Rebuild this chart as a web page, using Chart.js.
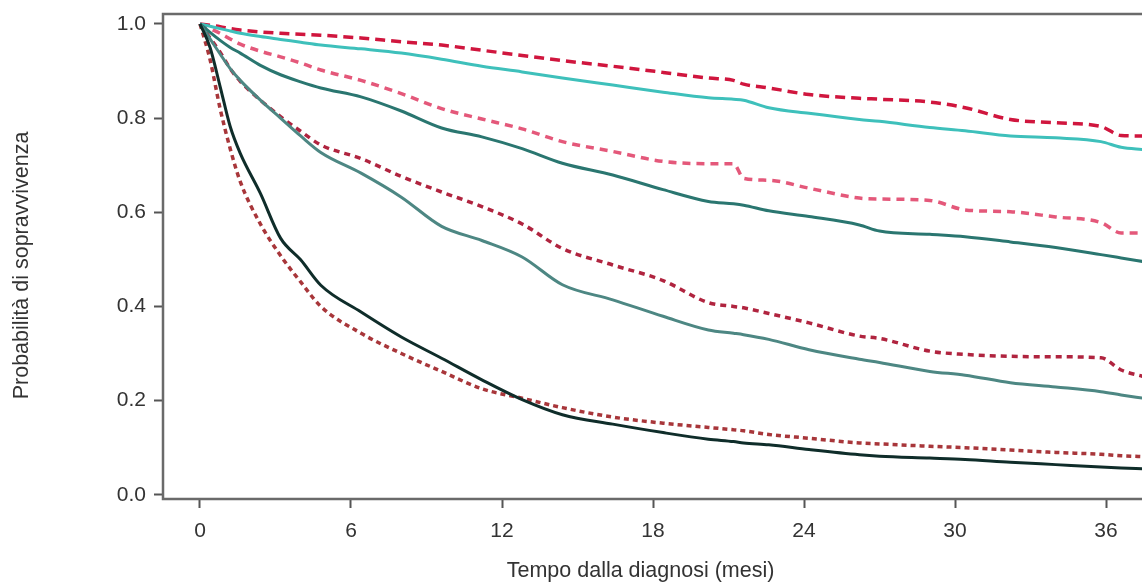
<!DOCTYPE html>
<html>
<head>
<meta charset="utf-8">
<script src="https://cdn.jsdelivr.net/npm/chart.js@4.4.0/dist/chart.umd.min.js"></script>
<style>
  html, body { margin: 0; padding: 0; background: #fff; }
  #wrap { width: 1142px; height: 584px; }
</style>
</head>
<body>
<div id="wrap"><canvas id="survival-chart" width="1142" height="584"></canvas></div>
<script>
// tempo in mesi (asse x)
var months = [0, 0.4, 0.8, 1.2, 1.6, 2.4, 3.2, 4, 4.8, 6.4, 8, 9.6, 11.2, 12.8, 14.4, 16.4, 18.4, 20.2, 21.2, 21.6, 22.6, 24.2, 26.2, 27, 29, 30.4, 32.2, 34, 35.8, 36.6, 37.5];

// curve osservate (linee continue)
var obsTop = [1.0, 0.995, 0.99, 0.985, 0.98, 0.973, 0.967, 0.961, 0.955, 0.947, 0.938, 0.925, 0.91, 0.898, 0.885, 0.87, 0.855, 0.843, 0.84, 0.838, 0.822, 0.81, 0.797, 0.793, 0.78, 0.773, 0.762, 0.758, 0.75, 0.738, 0.733];
var obsMid = [1.0, 0.982, 0.965, 0.95, 0.938, 0.912, 0.892, 0.877, 0.864, 0.845, 0.815, 0.779, 0.76, 0.735, 0.704, 0.679, 0.648, 0.623, 0.618, 0.615, 0.603, 0.591, 0.573, 0.56, 0.553, 0.548, 0.537, 0.525, 0.51, 0.503, 0.495];
var obsLow = [1.0, 0.968, 0.936, 0.905, 0.88, 0.838, 0.8, 0.762, 0.727, 0.683, 0.632, 0.57, 0.54, 0.505, 0.446, 0.414, 0.379, 0.35, 0.343, 0.34, 0.33, 0.308, 0.288, 0.281, 0.262, 0.254, 0.238, 0.229, 0.219, 0.212, 0.205];
var obsBottom = [1.0, 0.95, 0.867, 0.782, 0.725, 0.64, 0.545, 0.499, 0.445, 0.388, 0.335, 0.29, 0.244, 0.202, 0.17, 0.15, 0.132, 0.118, 0.113, 0.11, 0.106, 0.096, 0.085, 0.082, 0.078, 0.075, 0.069, 0.064, 0.059, 0.057, 0.055];

// curve attese (linee tratteggiate)
var expTop = [1.0, 0.997, 0.994, 0.99, 0.987, 0.983, 0.98, 0.978, 0.976, 0.97, 0.962, 0.955, 0.944, 0.933, 0.922, 0.91, 0.897, 0.885, 0.88, 0.872, 0.864, 0.85, 0.842, 0.84, 0.834, 0.822, 0.797, 0.79, 0.782, 0.763, 0.762];
var expMid = [1.0, 0.99, 0.98, 0.968, 0.957, 0.942, 0.93, 0.917, 0.902, 0.88, 0.852, 0.82, 0.798, 0.777, 0.75, 0.729, 0.708, 0.703, 0.703, 0.672, 0.668, 0.651, 0.63, 0.628, 0.625, 0.605, 0.601, 0.59, 0.578, 0.556, 0.556];
var expLow = [1.0, 0.97, 0.94, 0.905, 0.878, 0.838, 0.803, 0.772, 0.743, 0.714, 0.676, 0.643, 0.612, 0.575, 0.523, 0.488, 0.455, 0.408, 0.4, 0.397, 0.385, 0.365, 0.337, 0.332, 0.305, 0.298, 0.294, 0.293, 0.291, 0.265, 0.251];
var expBottom = [1.0, 0.924, 0.82, 0.735, 0.665, 0.575, 0.508, 0.452, 0.4, 0.343, 0.3, 0.262, 0.225, 0.205, 0.185, 0.165, 0.152, 0.143, 0.138, 0.136, 0.128, 0.12, 0.11, 0.108, 0.103, 0.1, 0.095, 0.09, 0.086, 0.083, 0.081];

var xTicks = [0, 6, 12, 18, 24, 30, 36];
var yTicks = [0, 0.2, 0.4, 0.6, 0.8, 1.0];

function toPoints(values) {
    return values.map(function (v, i) { return { x: months[i], y: v }; });
}

function solid(values, color) {
    return { data: toPoints(values), borderColor: color, borderWidth: 3, pointRadius: 0, cubicInterpolationMode: 'monotone', fill: false };
}

function dashed(values, color, dash) {
    return { data: toPoints(values), borderColor: color, borderWidth: 3.5, borderDash: dash, pointRadius: 0, cubicInterpolationMode: 'monotone', fill: false };
}

// cornice in stile R (sinistra, alto, basso)
var framePlugin = {
    id: 'frame',
    afterDraw: function (chart) {
        var a = chart.chartArea;
        var ctx = chart.ctx;
        ctx.save();
        ctx.strokeStyle = '#6a6a6a';
        ctx.lineWidth = 2.5;
        ctx.beginPath();
        ctx.moveTo(chart.width + 5, a.top);
        ctx.lineTo(a.left, a.top);
        ctx.lineTo(a.left, a.bottom);
        ctx.lineTo(chart.width + 5, a.bottom);
        ctx.stroke();
        ctx.restore();
    }
};

var tickFont = { family: 'Liberation Sans, Arial, sans-serif', size: 21, lineHeight: 1 };
var titleFont = { family: 'Liberation Sans, Arial, sans-serif', size: 21.5 };

var ctx = document.getElementById('survival-chart');
var SurvivalChart = new Chart(ctx, {
    type: 'line',
    data: {
        datasets: [
            solid(obsBottom, '#0f2d2a'),
            solid(obsLow, '#4d8783'),
            solid(obsMid, '#2a7670'),
            solid(obsTop, '#3ec0bb'),
            dashed(expBottom, '#a8363a', [5, 4]),
            dashed(expLow, '#b0243f', [6, 5]),
            dashed(expMid, '#e4587a', [8, 6]),
            dashed(expTop, '#d0163e', [10, 6])
        ]
    },
    plugins: [framePlugin],
    options: {
        responsive: false,
        animation: false,
        devicePixelRatio: 1,
        layout: { padding: { top: 14, right: 0, left: 0, bottom: 0 } },
        plugins: {
            legend: false,
            tooltip: { enabled: false }
        },
        scales: {
            x: {
                type: 'linear',
                min: -1.47,
                max: 37.43,
                afterBuildTicks: function (scale) {
                    scale.ticks = xTicks.map(function (v) { return { value: v }; });
                },
                afterFit: function (scale) { scale.height = 85; },
                grid: { drawOnChartArea: false, drawTicks: true, tickLength: 9, tickColor: '#555', tickWidth: 2 },
                border: { display: false },
                ticks: { color: '#333', font: tickFont, padding: 13, maxRotation: 0 },
                title: { display: true, text: 'Tempo dalla diagnosi (mesi)    ', color: '#333', font: titleFont, padding: { top: 0, bottom: 0 } }
            },
            y: {
                type: 'linear',
                min: -0.009,
                max: 1.021,
                afterBuildTicks: function (scale) {
                    scale.ticks = yTicks.map(function (v) { return { value: v }; });
                },
                afterFit: function (scale) {
                    scale.width = 163;
                    scale.paddingTop = 0;
                    scale.paddingBottom = 0;
                },
                grid: { drawOnChartArea: false, drawTicks: true, tickLength: 9, tickColor: '#555', tickWidth: 2 },
                border: { display: false },
                ticks: {
                    color: '#333',
                    font: tickFont,
                    padding: 8,
                    callback: function (v) { return Number(v).toFixed(1); }
                },
                title: { display: true, text: 'Probabilità di sopravvivenza   ', color: '#333', font: titleFont, padding: { top: 9, bottom: 0 } }
            }
        }
    }
});
</script>
</body>
</html>
